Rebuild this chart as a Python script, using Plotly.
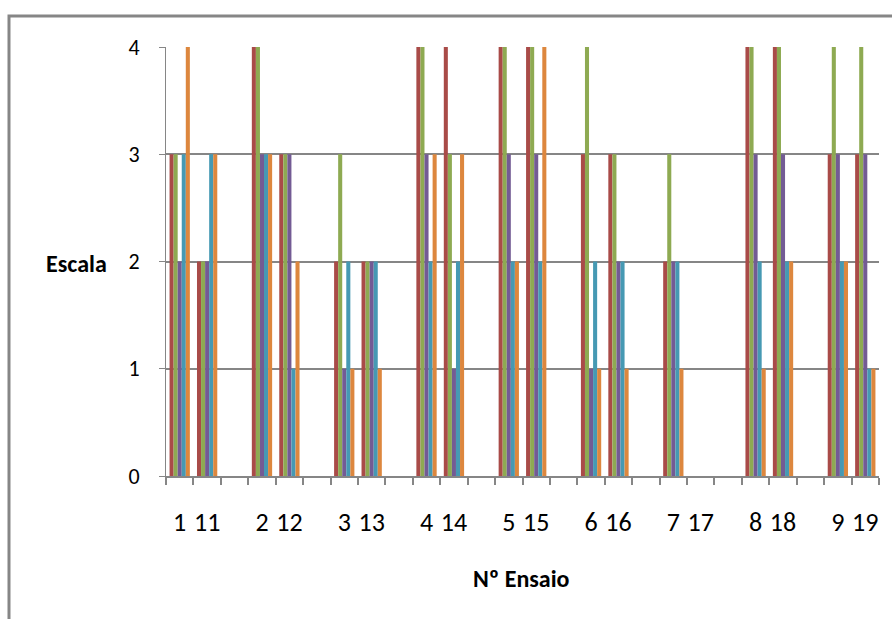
import plotly.graph_objects as go

# Trials in the order they appear along the axis (paired: n and n+10)
trials = ["1", "11", "2", "12", "3", "13", "4", "14", "5", "15",
          "6", "16", "7", "17", "8", "18", "9", "19"]

# Scale score per evaluator for each trial
serie_1 = [3, 2, 4, 3, 2, 2, 4, 4, 4, 4, 3, 3, 2, 0, 4, 4, 3, 3]
serie_2 = [3, 2, 4, 3, 3, 2, 4, 3, 4, 4, 4, 3, 3, 0, 4, 4, 4, 4]
serie_3 = [2, 2, 3, 3, 1, 2, 3, 1, 3, 3, 1, 2, 2, 0, 3, 3, 3, 3]
serie_4 = [3, 3, 3, 1, 2, 2, 2, 2, 2, 2, 2, 2, 2, 0, 2, 2, 2, 1]
serie_5 = [4, 3, 3, 2, 1, 1, 3, 3, 2, 4, 1, 1, 1, 0, 1, 2, 2, 1]

series = [("Série 1", serie_1, "#A94B48"),
          ("Série 2", serie_2, "#8EAA52"),
          ("Série 3", serie_3, "#735B94"),
          ("Série 4", serie_4, "#4699B3"),
          ("Série 5", serie_5, "#DD873E")]

# Build the category axis: each pair of trials is followed by an empty slot
cats = []
slot_of = {}
blank = 0
for i, t in enumerate(trials):
    slot_of[t] = len(cats)
    cats.append(t)
    if i % 2 == 1 and i < len(trials) - 1:
        blank += 1
        cats.append(" " * blank)

GRID = "#868686"
FONT = "Carlito, Liberation Sans, Arial, sans-serif"

fig = go.Figure()
for name, vals, color in series:
    y = [None] * len(cats)
    for t, v in zip(trials, vals):
        y[slot_of[t]] = v if v else None
    fig.add_trace(go.Bar(x=cats, y=y, name=name, marker_color=color,
                         marker_line_width=0))

fig.update_layout(
    width=892, height=619,
    margin=dict(l=166, r=13, t=47, b=143),
    paper_bgcolor="white", plot_bgcolor="white",
    barmode="group", bargap=0.26, bargroupgap=0,
    showlegend=False,
    font=dict(family=FONT, color="#000000"),
    xaxis=dict(
        type="category", categoryorder="array", categoryarray=cats,
        tickmode="array", tickvals=cats, ticktext=cats, tickangle=0,
        showline=True, linecolor=GRID, linewidth=2,
        ticks="outside", tickson="boundaries", ticklen=7, tickcolor=GRID,
        tickwidth=2, showgrid=False,
        tickfont=dict(size=26, family=FONT), ticklabelstandoff=22,
    ),
    yaxis=dict(
        range=[0, 4], dtick=1, tick0=0,
        showline=True, linecolor=GRID, linewidth=1,
        showgrid=True, gridcolor=GRID, gridwidth=1.5,
        ticks="outside", ticklen=6, tickcolor=GRID,
        tickfont=dict(size=22, family=FONT), ticklabelstandoff=15,
        zeroline=False,
    ),
    annotations=[
        dict(text="<b>Escala</b>", xref="paper", yref="paper", x=-0.126, y=0.4965,
             xanchor="center", yanchor="middle", showarrow=False,
             font=dict(size=24, family=FONT)),
        dict(text="<b>Nº Ensaio</b>", xref="paper", yref="paper", x=0.499, y=-0.2378,
             xanchor="center", yanchor="middle", showarrow=False,
             font=dict(size=24, family=FONT)),
    ],
    shapes=[
        # chart area border
        dict(type="rect", xref="paper", yref="paper",
             x0=-0.2202, x1=1.2, y0=-0.5, y1=1.0723,
             line=dict(color=GRID, width=3), fillcolor="rgba(0,0,0,0)",
             layer="below"),
    ],
)

fig.write_html("out.html")
